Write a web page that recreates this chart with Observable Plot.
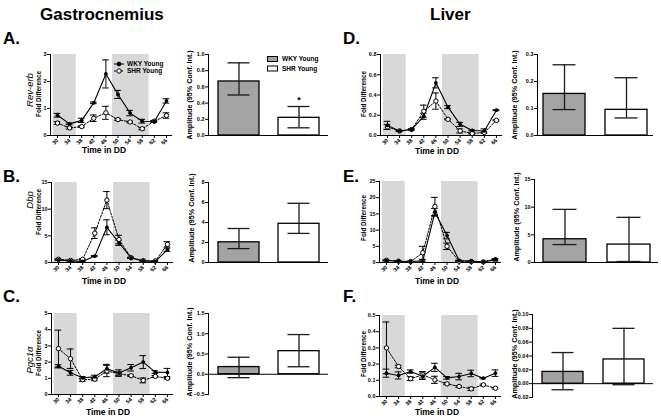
<!DOCTYPE html>
<html><head><meta charset="utf-8">
<script src="https://cdn.jsdelivr.net/npm/d3@7"></script>
<script src="https://cdn.jsdelivr.net/npm/@observablehq/plot@0.6"></script>
<style>
body{margin:0;background:#fff;}
#chart{position:relative;width:661px;height:420px;overflow:hidden;background:#fff;}
#chart svg{position:absolute;}
</style></head><body><div id="chart"></div>
<script>
// ---------------- DATA ----------------
const timePoints = [30, 34, 38, 42, 46, 50, 54, 58, 62, 66];
const groups = ["WKY Young", "SHR Young"];
const darkPhases = [{start: 28.6, end: 36.2}, {start: 48.2, end: 60.3}];

// Gastrocnemius – Rev-erb
const revErbWKY    = [0.75, 0.43, 0.56, 1.21, 2.28, 1.52, 0.83, 0.53, 0.52, 1.28];
const revErbWKYErr = [0.07, 0.03, 0.08, 0.03, 0.52, 0.15, 0.10, 0.07, 0.03, 0.08];
const revErbSHR    = [0.46, 0.28, 0.33, 0.64, 0.84, 0.59, 0.50, 0.25, 0.53, 0.74];
const revErbSHRErr = [0.05, 0.04, 0.03, 0.12, 0.24, 0.03, 0.03, 0.04, 0.03, 0.10];
// Gastrocnemius – Dbp
const dbpWKY    = [0.5, 0.3, 0.2, 1.2, 6.6, 3.7, 0.85, 0.3, 0.2, 2.4];
const dbpWKYErr = [0.1, 0.05, 0.05, 0.1, 1.4, 0.5, 0.1, 0.05, 0.05, 0.3];
const dbpSHR    = [0.6, 0.4, 0.6, 5.5, 11.7, 4.3, 0.9, 0.35, 0.3, 3.4];
const dbpSHRErr = [0.1, 0.05, 0.1, 1.0, 1.6, 0.8, 0.1, 0.05, 0.05, 0.5];
// Gastrocnemius – Pgc1a
const pgcWKY    = [1.74, 1.34, 1.03, 1.09, 1.59, 1.32, 1.65, 2.0, 1.38, 1.36];
const pgcWKYErr = [0.1, 0.15, 0.08, 0.1, 0.27, 0.2, 0.2, 0.4, 0.08, 0.25];
const pgcSHR    = [2.83, 2.21, 0.91, 0.95, 1.45, 1.28, 1.16, 0.87, 1.12, 1.0];
const pgcSHRErr = [1.14, 0.6, 0.1, 0.1, 0.35, 0.1, 0.05, 0.15, 0.05, 0.05];
// Liver – Rev-erb
const liverRevWKY    = [0.10, 0.045, 0.06, 0.19, 0.52, 0.28, 0.11, 0.05, 0.045, 0.25];
const liverRevWKYErr = [0.04, 0.005, 0.005, 0.03, 0.05, 0.015, 0.02, 0.005, 0.02, 0.005];
const liverRevSHR    = [0.085, 0.045, 0.06, 0.24, 0.34, 0.16, 0.045, 0.02, 0.03, 0.15];
const liverRevSHRErr = [0.025, 0.005, 0.005, 0.06, 0.08, 0.005, 0.02, 0.005, 0.005, 0.005];
// Liver – Dbp
const liverDbpWKY    = [0.6, 0.4, 0.3, 0.5, 15.5, 8.3, 0.6, 0.4, 0.2, 1.0];
const liverDbpWKYErr = [0.1, 0.1, 0.1, 0.3, 1.2, 1.0, 0.1, 0.1, 0.05, 0.2];
const liverDbpSHR    = [0.7, 0.4, 0.3, 3.0, 17.3, 5.0, 0.4, 0.3, 0.2, 0.8];
const liverDbpSHRErr = [0.1, 0.1, 0.1, 2.0, 2.8, 1.0, 0.1, 0.1, 0.05, 0.3];
// Liver – Pgc1a
const liverPgcWKY    = [0.144, 0.13, 0.154, 0.125, 0.18, 0.115, 0.123, 0.142, 0.113, 0.144];
const liverPgcWKYErr = [0.025, 0.022, 0.01, 0.02, 0.025, 0.008, 0.02, 0.02, 0.004, 0.02];
const liverPgcSHR    = [0.30, 0.185, 0.11, 0.134, 0.103, 0.078, 0.062, 0.047, 0.072, 0.051];
const liverPgcSHRErr = [0.16, 0.008, 0.012, 0.02, 0.022, 0.005, 0.005, 0.01, 0.005, 0.005];

// Amplitudes (95% CI)
const revErbAmp = [0.667, 0.218], revErbLo = [0.50, 0.095], revErbHi = [0.897, 0.358];
const dbpAmp = [2.02, 3.87], dbpLo = [1.39, 2.91], dbpHi = [3.4, 5.92];
const pgcAmp = [0.177, 0.57], pgcLo = [-0.084, 0.185], pgcHi = [0.42, 0.98];
const liverRevAmp = [0.154, 0.095], liverRevLo = [0.096, 0.065], liverRevHi = [0.262, 0.214];
const liverDbpAmp = [4.2, 3.24], liverDbpLo = [3.24, 0.18], liverDbpHi = [9.6, 8.16];
const liverPgcAmp = [0.017, 0.035], liverPgcLo = [-0.0088, -0.0015], liverPgcHi = [0.045, 0.080];
const significant = [false, true];

// ---------------- DRAWING ----------------
const FONT = '"Liberation Sans", Arial, Helvetica, sans-serif';
const chart = document.getElementById("chart");
const xDomain = [27.7, 68];

function linePanel(c) {
  const mL = 26, mR = 4, mT = 6, mB = 22;
  const wky = timePoints.map((t, i) => ({t, v: c.wky[i], e: c.wkyErr[i]}));
  const shr = timePoints.map((t, i) => ({t, v: c.shr[i], e: c.shrErr[i]}));
  const both = wky.concat(shr);
  const cap = 1.1;
  const svg = Plot.plot({
    width: c.x1 - c.x0 + mL + mR, height: c.y1 - c.y0 + mT + mB,
    marginLeft: mL, marginRight: mR, marginTop: mT, marginBottom: mB,
    style: {background: "transparent", fontFamily: FONT, fontSize: "5.5px", fontWeight: "bold", color: "#000", overflow: "visible"},
    x: {domain: xDomain},
    y: {domain: c.yDomain},
    marks: [
      Plot.rect(darkPhases, {x1: "start", x2: "end", fill: "#d8d8d8"}),
      Plot.ruleY([c.yDomain[0]], {stroke: "#000", strokeWidth: 1}),
      Plot.frame({anchor: "left", stroke: "#000", strokeWidth: 1}),
      Plot.axisX({ticks: timePoints, tickRotate: -45, tickSize: 3, tickPadding: 1, label: null, tickFormat: d3.format("d"), fill: "#000"}),
      Plot.axisY({ticks: c.yTicks, tickSize: 3, tickPadding: 1, label: null, tickFormat: c.fmt, fill: "#000"}),
      Plot.line(wky, {x: "t", y: "v", stroke: "#000", strokeWidth: 1.1}),
      Plot.line(shr, {x: "t", y: "v", stroke: "#000", strokeWidth: 1, strokeDasharray: "2,1.5"}),
      Plot.ruleX(both, {x: "t", y1: d => d.v - d.e, y2: d => d.v + d.e, stroke: "#000", strokeWidth: 1}),
      Plot.ruleY(both, {y: d => d.v + d.e, x1: d => d.t - cap, x2: d => d.t + cap, stroke: "#000", strokeWidth: 1}),
      Plot.ruleY(both, {y: d => d.v - d.e, x1: d => d.t - cap, x2: d => d.t + cap, stroke: "#000", strokeWidth: 1}),
      Plot.dot(shr, {x: "t", y: "v", r: 2.2, fill: "#fff", stroke: "#000", strokeWidth: 1}),
      Plot.dot(wky, {x: "t", y: "v", r: 1.9, fill: "#000"})
    ]
  });
  svg.style.left = (c.x0 - mL) + "px";
  svg.style.top = (c.y0 - mT) + "px";
  chart.append(svg);
}

function barPanel(c) {
  const mL = 24, mR = 2, mT = 10, mB = 6;
  const rows = groups.map((g, i) => ({g, v: c.amp[i], lo: c.lo[i], hi: c.hi[i], sig: c.sig ? c.sig[i] : false}));
  const svg = Plot.plot({
    width: c.x1 - c.x0 + mL + mR, height: c.y1 - c.y0 + mT + mB,
    marginLeft: mL, marginRight: mR, marginTop: mT, marginBottom: mB,
    style: {background: "transparent", fontFamily: FONT, fontSize: "5.5px", fontWeight: "bold", color: "#000", overflow: "visible"},
    x: {domain: groups, paddingInner: c.pi, paddingOuter: c.po, axis: null},
    y: {domain: c.yDomain},
    color: {domain: groups, range: ["#a3a3a3", "#ffffff"]},
    marks: [
      Plot.barY(rows, {x: "g", y: "v", fill: "g", stroke: "#000", strokeWidth: 1.3}),
      Plot.ruleX(rows, {x: "g", y1: "lo", y2: "hi", stroke: "#1a1a1a", strokeWidth: 1.3}),
      Plot.tickY(rows, {x: "g", y: "hi", insetLeft: 9.5, insetRight: 9.5, stroke: "#1a1a1a", strokeWidth: 1.3}),
      Plot.tickY(rows, {x: "g", y: "lo", insetLeft: 9.5, insetRight: 9.5, stroke: "#1a1a1a", strokeWidth: 1.3}),
      Plot.ruleY([0], {stroke: "#000", strokeWidth: 1}),
      Plot.frame({anchor: "left", stroke: "#000", strokeWidth: 1}),
      Plot.axisY({ticks: c.yTicks, tickSize: 3, tickPadding: 1, label: null, tickFormat: c.fmt, fill: "#000"}),
      Plot.text(rows.filter(d => d.sig), {x: "g", y: "hi", text: () => "*", dy: -6, fontSize: 9, fontWeight: "bold", fill: "#000"})
    ]
  });
  svg.style.left = (c.x0 - mL) + "px";
  svg.style.top = (c.y0 - mT) + "px";
  chart.append(svg);
}

const f0 = d3.format("d"), f1 = d3.format(".1f"), f2 = d3.format(".2f");

// Gastrocnemius
linePanel({x0: 50, x1: 172, y0: 54, y1: 135, yDomain: [0, 3], yTicks: [0, 1, 2, 3], fmt: f0,
  wky: revErbWKY, wkyErr: revErbWKYErr, shr: revErbSHR, shrErr: revErbSHRErr});
linePanel({x0: 51, x1: 173, y0: 182, y1: 262, yDomain: [0, 15], yTicks: [0, 5, 10, 15], fmt: f0,
  wky: dbpWKY, wkyErr: dbpWKYErr, shr: dbpSHR, shrErr: dbpSHRErr});
linePanel({x0: 51, x1: 173, y0: 313, y1: 394, yDomain: [0, 5], yTicks: [0, 1, 2, 3, 4, 5], fmt: f0,
  wky: pgcWKY, wkyErr: pgcWKYErr, shr: pgcSHR, shrErr: pgcSHRErr});
barPanel({x0: 208, x1: 328, y0: 54, y1: 135, yDomain: [0, 1], yTicks: [0, 0.2, 0.4, 0.6, 0.8, 1.0], fmt: f1,
  pi: 0.32, po: 0.15, amp: revErbAmp, lo: revErbLo, hi: revErbHi, sig: significant});
barPanel({x0: 208, x1: 328, y0: 182, y1: 262, yDomain: [0, 8], yTicks: [0, 2, 4, 6, 8], fmt: f0,
  pi: 0.32, po: 0.15, amp: dbpAmp, lo: dbpLo, hi: dbpHi});
barPanel({x0: 208, x1: 328, y0: 313, y1: 394, yDomain: [-0.5, 1.5], yTicks: [-0.5, 0, 0.5, 1.0, 1.5], fmt: f1,
  pi: 0.32, po: 0.15, amp: pgcAmp, lo: pgcLo, hi: pgcHi});

// Liver
linePanel({x0: 380, x1: 502, y0: 54, y1: 135, yDomain: [0, 0.8], yTicks: [0, 0.2, 0.4, 0.6, 0.8], fmt: f1,
  wky: liverRevWKY, wkyErr: liverRevWKYErr, shr: liverRevSHR, shrErr: liverRevSHRErr});
linePanel({x0: 379, x1: 501, y0: 181, y1: 262, yDomain: [0, 25], yTicks: [0, 5, 10, 15, 20, 25], fmt: f0,
  wky: liverDbpWKY, wkyErr: liverDbpWKYErr, shr: liverDbpSHR, shrErr: liverDbpSHRErr});
linePanel({x0: 379, x1: 501, y0: 315, y1: 396, yDomain: [0, 0.5], yTicks: [0, 0.1, 0.2, 0.3, 0.4, 0.5], fmt: f1,
  wky: liverPgcWKY, wkyErr: liverPgcWKYErr, shr: liverPgcSHR, shrErr: liverPgcSHRErr});
barPanel({x0: 537, x1: 653, y0: 54, y1: 135, yDomain: [0, 0.3], yTicks: [0, 0.1, 0.2, 0.3], fmt: f1,
  pi: 0.33, po: 0.1, amp: liverRevAmp, lo: liverRevLo, hi: liverRevHi});
barPanel({x0: 534, x1: 658, y0: 179, y1: 262, yDomain: [0, 15], yTicks: [0, 5, 10, 15], fmt: f0,
  pi: 0.33, po: 0.13, amp: liverDbpAmp, lo: liverDbpLo, hi: liverDbpHi});
barPanel({x0: 532, x1: 653, y0: 314, y1: 397, yDomain: [-0.02, 0.10], yTicks: [-0.02, 0, 0.02, 0.04, 0.06, 0.08, 0.10], fmt: f2,
  pi: 0.33, po: 0.15, amp: liverPgcAmp, lo: liverPgcLo, hi: liverPgcHi});

// ---------------- TEXT OVERLAY ----------------
const ov = d3.select(chart).append("svg")
  .attr("width", 661).attr("height", 420)
  .style("left", "0px").style("top", "0px")
  .attr("font-family", FONT);

function txt(x, y, s, opts = {}) {
  return ov.append("text").attr("x", x).attr("y", y).text(s).attr("fill", "#000")
    .attr("font-size", opts.size || 8).attr("font-weight", opts.weight || "bold")
    .attr("font-style", opts.style || "normal").attr("text-anchor", opts.anchor || "start");
}
function vtxt(x, y, s, opts = {}) {
  ov.append("text").attr("transform", `translate(${x},${y}) rotate(-90)`).text(s).attr("fill", "#000")
    .attr("font-size", opts.size || 7).attr("font-weight", opts.weight || "bold")
    .attr("font-style", opts.style || "normal").attr("text-anchor", "middle");
}

txt(40, 20, "Gastrocnemius", {size: 17});
txt(430, 20, "Liver", {size: 17});
[["A.", 3, 44], ["B.", 3, 182], ["C.", 3, 302], ["D.", 343, 44], ["E.", 343, 182], ["F.", 343, 302]]
  .forEach(([s, x, y]) => txt(x, y, s, {size: 17}));

// Time in DD labels
[[104, 153], [104, 284], [108, 415], [437, 154], [437, 284], [437, 415]]
  .forEach(([x, y]) => txt(x, y, "Time in DD", {size: 8.5, anchor: "middle"}));

// Y labels
vtxt(33, 90, "Rev-erb", {size: 9.5, style: "italic", weight: "normal"});
vtxt(33, 200, "Dbp", {size: 9.5, style: "italic", weight: "normal"});
vtxt(33, 360, "Pgc1α", {size: 9.5, style: "italic", weight: "normal"});
[[40.5, 94], [40.5, 212], [40.5, 353], [365.5, 94], [365.5, 218], [365.5, 354]]
  .forEach(([x, y]) => vtxt(x, y, "Fold Difference", {size: 6.3}));
[[192, 95], [194, 218], [192, 352], [516.5, 95], [519, 217], [517, 354]]
  .forEach(([x, y]) => vtxt(x, y, "Amplitude (95% Conf. Int.)", {size: 7.2}));

// Legend for line chart (A)
const lineLeg = [{name: groups[0], dash: null, fill: "#000", r: 1.9}, {name: groups[1], dash: "2,1.5", fill: "#fff", r: 2.2}];
lineLeg.forEach((d, i) => {
  const y = 64 + i * 7;
  ov.append("line").attr("x1", 114).attr("x2", 124).attr("y1", y).attr("y2", y)
    .attr("stroke", "#000").attr("stroke-width", 1).attr("stroke-dasharray", d.dash);
  ov.append("circle").attr("cx", 119).attr("cy", y).attr("r", d.r).attr("fill", d.fill).attr("stroke", "#000").attr("stroke-width", 1);
  txt(127, y + 2.3, d.name, {size: 6.5});
});
// Legend for bar chart (A)
const barLeg = [{name: groups[0], fill: "#a3a3a3"}, {name: groups[1], fill: "#fff"}];
barLeg.forEach((d, i) => {
  const y = 59 + i * 9.5;
  ov.append("rect").attr("x", 267.5).attr("y", y - 2.5).attr("width", 10).attr("height", 5)
    .attr("fill", d.fill).attr("stroke", "#000").attr("stroke-width", 1);
  txt(282, y + 2.3, d.name, {size: 6.5});
});
</script></body></html>
